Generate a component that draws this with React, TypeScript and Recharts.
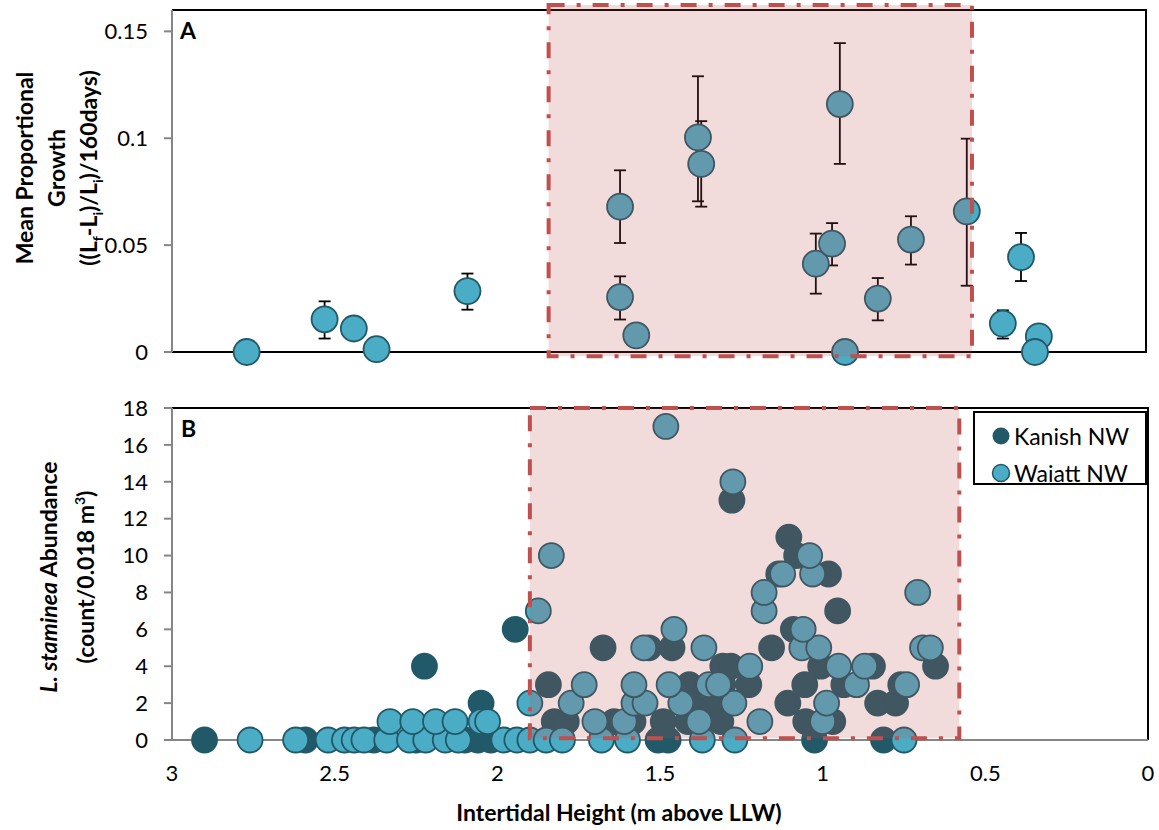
import React from 'react';
import { ScatterChart, Scatter, XAxis, YAxis, ReferenceArea, ErrorBar } from 'recharts';

// Panel A: mean proportional growth vs intertidal height
const growthHeight = [2.77, 2.53, 2.44, 2.37, 2.09, 1.62, 1.62, 1.57, 1.38, 1.37, 0.943, 1.017, 0.967, 0.927, 0.826, 0.724, 0.552, 0.441, 0.385, 0.33, 0.342];
const growthMean = [0, 0.0153, 0.011, 0.0013, 0.0285, 0.068, 0.0257, 0.0078, 0.1004, 0.088, 0.116, 0.0413, 0.0507, 0, 0.025, 0.0526, 0.0658, 0.0133, 0.0444, 0.0073, 0];
const growthUpper = [0, 0.0237, 0.011, 0.0013, 0.0367, 0.085, 0.0354, 0.0078, 0.129, 0.108, 0.1445, 0.0554, 0.0603, 0, 0.0346, 0.0635, 0.0998, 0.0195, 0.0557, 0.0073, 0];
const growthLower = [0, 0.0063, 0.011, 0.0013, 0.0198, 0.051, 0.0152, 0.0078, 0.0705, 0.068, 0.088, 0.0273, 0.0405, 0, 0.0148, 0.0409, 0.031, 0.0063, 0.0332, 0.0073, 0];

// Panel B: L. staminea abundance
const kanishHeight = [
  2.9, 2.59, 2.38, 2.25, 2.1, 2.06, 2.02, 1.506, 1.475, 1.025, 0.813,
  1.825, 1.788, 1.641, 1.583, 1.49, 1.414, 1.313, 1.052, 0.969,
  2.05, 1.405, 1.334, 1.107, 0.831, 0.776,
  1.843, 1.41, 1.307, 1.227, 1.055, 0.935, 0.76,
  2.224, 1.307, 1.282, 1.006, 0.847, 0.653,
  1.675, 1.534, 1.463, 1.157,
  1.945, 1.09,
  0.954,
  0.982, 1.135,
  1.08,
  1.104,
  1.279,
];
const kanishCount = [
  0, 0, 0, 0, 0, 0, 0, 0, 0, 0, 0,
  1, 1, 1, 1, 1, 1, 1, 1, 1,
  2, 2, 2, 2, 2, 2,
  3, 3, 3, 3, 3, 3, 3,
  4, 4, 4, 4, 4, 4,
  5, 5, 5, 5,
  6, 6,
  7,
  9, 9,
  10,
  11,
  13,
];
const waiattHeight = [
  2.76, 2.62, 2.52, 2.47, 2.44, 2.41, 2.34, 2.27, 2.22, 2.16, 2.12, 1.98, 1.94, 1.9, 1.85, 1.8, 1.68, 1.6, 1.37, 1.27, 0.75,
  2.33, 2.26, 2.19, 2.13, 2.05, 2.03, 1.7, 1.61, 1.38, 1.193, 1.0,
  1.9, 1.773, 1.58, 1.546, 1.436, 1.273, 0.988,
  1.733, 1.58, 1.472, 1.35, 1.32, 0.896, 0.742,
  1.224, 0.951, 0.871,
  1.55, 1.365, 1.064, 1.012, 0.693, 0.669,
  1.457, 1.06,
  1.874, 1.18,
  1.18, 0.708,
  1.123, 1.031,
  1.834, 1.04,
  1.276,
  1.482,
];
const waiattCount = [
  0, 0, 0, 0, 0, 0, 0, 0, 0, 0, 0, 0, 0, 0, 0, 0, 0, 0, 0, 0, 0,
  1, 1, 1, 1, 1, 1, 1, 1, 1, 1, 1,
  2, 2, 2, 2, 2, 2, 2,
  3, 3, 3, 3, 3, 3, 3,
  4, 4, 4,
  5, 5, 5, 5, 5, 5,
  6, 6,
  7, 7,
  8, 8,
  9, 9,
  10, 10,
  14,
  17,
];

const growthTicks = [0, 0.05, 0.1, 0.15];
const countTicks = [0, 2, 4, 6, 8, 10, 12, 14, 16, 18];
const heightTicks = [3, 2.5, 2, 1.5, 1, 0.5, 0];

// shaded mid-shore zone in each panel
const zoneA = { x1: 1.84, x2: 0.536, y1: -0.002, y2: 0.1623 };
const zoneB = { x1: 1.9, x2: 0.58, y1: 0.1, y2: 18 };

const FONT = 'Lato, "Open Sans", sans-serif';
const KANISH = '#215968';
const WAIATT = '#4bacc6';
const AXIS = '#868686';

const growthData = growthHeight.map((h, i) => ({
  h,
  g: growthMean[i],
  err: [growthMean[i] - growthLower[i], growthUpper[i] - growthMean[i]],
}));
const kanishData = kanishHeight.map((h, i) => ({ h, n: kanishCount[i] }));
const waiattData = waiattHeight.map((h, i) => ({ h, n: waiattCount[i] }));

const dot = (r: number, fill: string, stroke: string) => (p: any) =>
  <circle cx={p.cx} cy={p.cy} r={r} fill={fill} stroke={stroke} strokeWidth={1.8} />;

const tickStyle = { fill: '#000', fontSize: 22, fontFamily: FONT };

const zoneProps = {
  stroke: '#c0504d',
  strokeWidth: 4,
  strokeDasharray: '16 12 4 12',
  fill: '#c0504d',
  fillOpacity: 0.2,
  ifOverflow: 'visible' as const,
  zIndex: 800,
};

export default function App() {
  return (
    <div style={{ position: 'absolute', left: 0, top: 0, width: 1159, height: 830, background: '#fff', fontFamily: FONT }}>
      {/* plot frames */}
      <svg width={1159} height={830} style={{ position: 'absolute', left: 0, top: 0 }}>
        <polyline points="172,10 1146,10 1146,352 172,352" fill="none" stroke="#000" strokeWidth={2} />
        <polyline points="172,408 1148,408 1148,740" fill="none" stroke="#000" strokeWidth={2} />
      </svg>

      <div style={{ position: 'absolute', left: 0, top: 0 }}>
        <ScatterChart width={1159} height={380} margin={{ top: 10, right: 13, bottom: 28, left: 112 }}>
          <XAxis type="number" dataKey="h" domain={[0, 3]} reversed hide />
          <YAxis
            type="number"
            dataKey="g"
            domain={[0, 0.16]}
            ticks={growthTicks}
            width={60}
            stroke={AXIS}
            strokeWidth={2}
            tickSize={8}
            tickMargin={16}
            tick={tickStyle}
          />
          <Scatter data={growthData} isAnimationActive={false} shape={dot(13, WAIATT, KANISH)}>
            <ErrorBar dataKey="err" direction="y" width={6} stroke="#000" strokeWidth={1.8} />
          </Scatter>
          <ReferenceArea {...zoneA} {...zoneProps} />
        </ScatterChart>
      </div>

      <div style={{ position: 'absolute', left: 0, top: 380 }}>
        <ScatterChart width={1159} height={450} margin={{ top: 28, right: 11, bottom: 40, left: 112 }}>
          <XAxis
            type="number"
            dataKey="h"
            domain={[0, 3]}
            reversed
            ticks={heightTicks}
            height={50}
            stroke={AXIS}
            strokeWidth={2}
            tickLine={false}
            tickSize={0}
            tickMargin={25}
            tick={tickStyle}
          />
          <YAxis
            type="number"
            dataKey="n"
            domain={[0, 18]}
            ticks={countTicks}
            width={60}
            stroke={AXIS}
            strokeWidth={2}
            tickSize={8}
            tickMargin={16}
            tick={tickStyle}
          />
          <Scatter name="Kanish NW" data={kanishData} isAnimationActive={false} shape={dot(12.5, KANISH, KANISH)} />
          <Scatter name="Waiatt NW" data={waiattData} isAnimationActive={false} shape={dot(12.5, WAIATT, KANISH)} />
          <ReferenceArea {...zoneB} {...zoneProps} />
        </ScatterChart>
      </div>

      {/* panel letters */}
      <div style={{ position: 'absolute', left: 180, top: 16, fontSize: 23, fontWeight: 700 }}>A</div>
      <div style={{ position: 'absolute', left: 181, top: 414, fontSize: 23, fontWeight: 700 }}>B</div>

      {/* y axis titles */}
      <div
        style={{
          position: 'absolute', left: 56 - 160, top: 168 - 48, width: 320, height: 96,
          transform: 'rotate(-90deg)', textAlign: 'center', fontWeight: 700, fontSize: 23, lineHeight: '32px',
        }}
      >
        <div>Mean Proportional</div>
        <div>Growth</div>
        <div>((L<sub style={{ fontSize: 14 }}>f</sub>-L<sub style={{ fontSize: 14 }}>i</sub>)/L<sub style={{ fontSize: 14 }}>i</sub>)/160days)</div>
      </div>
      <div
        style={{
          position: 'absolute', left: 64 - 160, top: 577 - 31, width: 320, height: 62,
          transform: 'rotate(-90deg)', textAlign: 'center', fontWeight: 700, fontSize: 23, lineHeight: '31px',
        }}
      >
        <div><i>L. staminea</i> Abundance</div>
        <div>(count/0.018 m<sup style={{ fontSize: 14 }}>3</sup>)</div>
      </div>

      {/* x axis title */}
      <div style={{ position: 'absolute', left: 619, top: 812, transform: 'translate(-50%, -50%)', whiteSpace: 'nowrap', fontWeight: 700, fontSize: 23 }}>
        Intertidal Height (m above LLW)
      </div>

      {/* legend */}
      <div style={{ position: 'absolute', left: 973, top: 411, width: 170, height: 70, border: '2px solid #000', background: '#fff', fontSize: 23 }}>
        <div style={{ position: 'absolute', left: 16, top: 9, display: 'flex', alignItems: 'center' }}>
          <svg width={20} height={20}><circle cx={10} cy={10} r={8.5} fill={KANISH} /></svg>
          <span style={{ marginLeft: 3 }}>Kanish NW</span>
        </div>
        <div style={{ position: 'absolute', left: 16, top: 46, display: 'flex', alignItems: 'center' }}>
          <svg width={20} height={20}><circle cx={10} cy={10} r={8.5} fill={WAIATT} stroke={KANISH} strokeWidth={1.5} /></svg>
          <span style={{ marginLeft: 3 }}>Waiatt NW</span>
        </div>
      </div>
    </div>
  );
}
